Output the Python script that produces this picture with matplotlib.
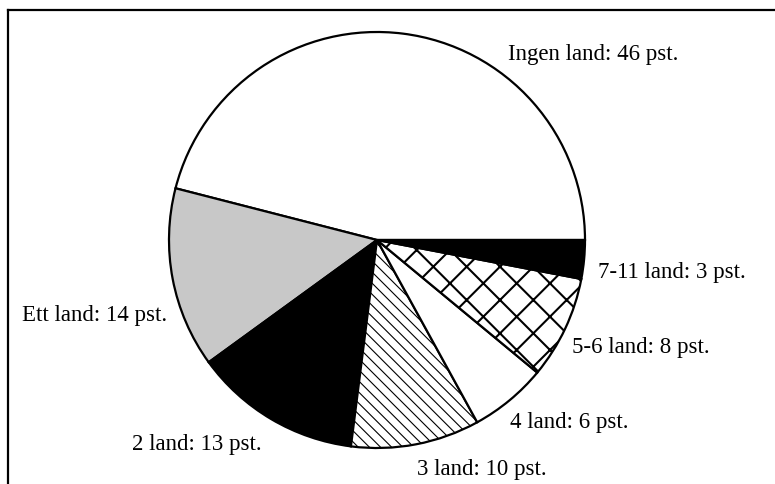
import matplotlib.pyplot as plt

categories = ["Ingen land", "Ett land", "2 land", "3 land", "4 land", "5-6 land", "7-11 land"]
values = [46, 14, 13, 10, 6, 8, 3]

faces = ["white", "#c8c8c8", "black", "white", "white", "white", "black"]
hatches = [None, None, None, "\\\\\\", None, "x", None]
hatch_lw = [1, 1, 1, 0.8, 1, 1.5, 1]

# label anchor points in pixels: left edge, baseline (y from top)
label_pos = [(508, 60), (22, 321), (132, 450), (417, 475), (510, 428), (572, 353), (598, 278)]

W, H = 775, 485
fig = plt.figure(figsize=(W / 100, H / 100), dpi=100)
ax = fig.add_axes([0, 0, 1, 1])
ax.axis("off")

wedges, _ = ax.pie(values, center=(377, H - 241), radius=208, startangle=0,
                   counterclock=True, colors=faces,
                   wedgeprops=dict(edgecolor="black", linewidth=1.6))
ax.set_xlim(0, W)
ax.set_ylim(0, H)
ax.set_aspect("equal")

for w, h, lw in zip(wedges, hatches, hatch_lw):
    if h:
        w.set_hatch(h)
        try:
            w.set_hatch_linewidth(lw)
        except AttributeError:
            plt.rcParams["hatch.linewidth"] = lw

for cat, v, (x, y) in zip(categories, values, label_pos):
    ax.text(x, H - y, f"{cat}: {v} pst.", fontsize=16.5, family="Liberation Serif",
            ha="left", va="baseline")

# frame
ax.plot([8, W], [H - 11, H - 11], color="black", lw=1.6, clip_on=False)
ax.plot([8, 8], [H - 11, 0], color="black", lw=1.6, clip_on=False)

fig.savefig("out.png", dpi=100)
